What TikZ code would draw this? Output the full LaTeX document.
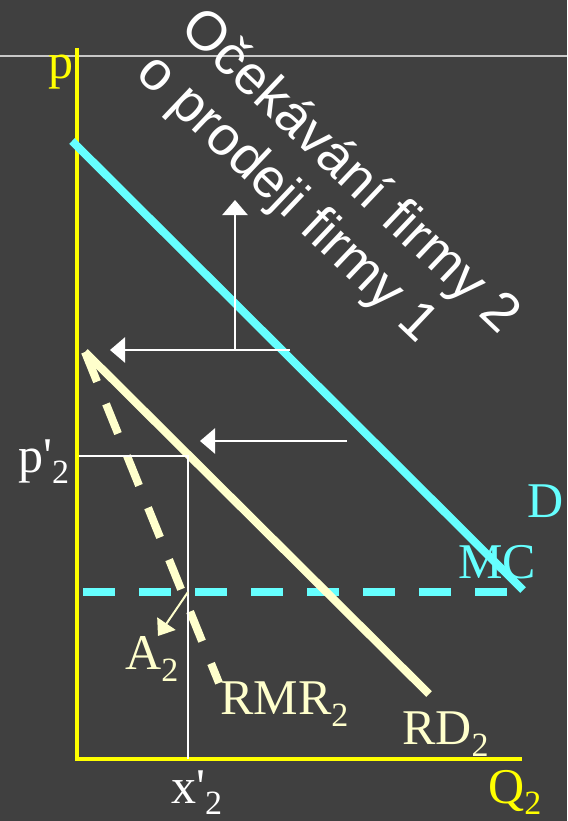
\documentclass[tikz,border=0pt]{standalone}
\usepackage{fontspec}
\setmainfont{Liberation Serif}
\newfontfamily\arialfont{Liberation Sans}
\usetikzlibrary{arrows.meta}
\definecolor{bg}{RGB}{64,64,64}
\definecolor{axisyellow}{RGB}{255,255,0}
\definecolor{cyanline}{RGB}{102,255,255}
\definecolor{paleyellow}{RGB}{255,255,204}
\definecolor{rulegray}{RGB}{200,200,200}
\newcommand\lowsub[2][12pt]{\raisebox{-#1}{\fontsize{34}{34}\selectfont #2}}
\tikzset{
  lab/.style={inner sep=0pt, anchor=base west, font=\fontsize{50}{60}\selectfont},
  rottext/.style={inner sep=0pt, anchor=base west, rotate=-43.5, text=white, font=\arialfont\fontsize{55}{62}\selectfont},
  axisline/.style={draw=axisyellow, line width=4.5pt},
  cyanstroke/.style={draw=cyanline, line width=8pt},
  curve/.style={draw=paleyellow, line width=8pt},
  thinwhite/.style={draw=white, line width=2.5pt},
  shiftarrow/.style={draw=white, line width=2.5pt, -{Triangle[length=15pt,width=25pt]}},
}
\begin{document}
\begin{tikzpicture}[x=1pt,y=-1pt]
\fill[bg] (0,0) rectangle (567,821);
\useasboundingbox (0,0) rectangle (567,821);
% top rule
\coordinate (ruleL) at (0,56);
\coordinate (ruleR) at (567,56);
\draw[rulegray, line width=2pt] (ruleL) -- (ruleR);
% axes
\coordinate (ytop) at (77,48);
\coordinate (origin) at (77,759);
\coordinate (xend) at (522,759);
\draw[axisline] (ytop) -- (origin) -- (xend);
% demand D
\coordinate (dA) at (72,141);
\coordinate (dB) at (523,590);
\draw[cyanstroke] (dA) -- (dB);
% MC dashed
\coordinate (mcA) at (83,592);
\coordinate (mcB) at (507,592);
\draw[cyanstroke, dash pattern=on 32pt off 24pt] (mcA) -- (mcB);
% RD2
\coordinate (rdA) at (85,352);
\coordinate (rdB) at (429,694);
\draw[curve] (rdA) -- (rdB);
% RMR2 dashed
\coordinate (rmrB) at (219,683);
\draw[curve, dash pattern=on 32pt off 24pt] (rdA) -- (rmrB);
% optimum lines
\coordinate (pL) at (79,456);
\coordinate (pR) at (188,456);
\coordinate (xB) at (188,759);
\draw[thinwhite] (pL) -- (pR) -- (xB);
% shift arrows
\coordinate (a1s) at (290,350);
\coordinate (a1e) at (110,350);
\coordinate (a1v) at (235,350);
\coordinate (a1t) at (235,200);
\draw[shiftarrow] (a1s) -- (a1e);
\draw[shiftarrow] (a1v) -- (a1t);
\coordinate (a2s) at (347,441);
\coordinate (a2e) at (200,441);
\draw[shiftarrow] (a2s) -- (a2e);
% A2 arrow
\coordinate (aS) at (188,592);
\coordinate (aT) at (158,636);
\draw[paleyellow, line width=2pt, -{Triangle[length=15pt,width=22pt]}] (aS) -- (aT);
% labels
\node[lab, text=axisyellow] (plab) at (48,79) {p};
\node[lab, text=white] (pprime) at (18,472) {p\textquotesingle\lowsub[11pt]{2}};
\node[lab, text=white] (xprime) at (171,803) {x\textquotesingle\lowsub[11pt]{2}};
\node[lab, text=axisyellow] (qlab) at (488,803) {Q\lowsub[11pt]{2}};
\node[lab, text=paleyellow] (alab) at (125,669) {A\lowsub{2}};
\node[lab, text=paleyellow] (rmrlab) at (220,714) {RMR\lowsub{2}};
\node[lab, text=paleyellow] (rdlab) at (402,744) {RD\lowsub{2}};
\node[lab, text=cyanline] (dlab) at (527,517) {D};
\node[lab, text=cyanline] (mclab) at (458,578) {MC};
% rotated caption
\node[rottext] (cap1) at (178,30.6) {Očekávání firmy 2};
\node[rottext] (cap2) at (134,75) {o prodeji firmy 1};
\end{tikzpicture}
\end{document}
